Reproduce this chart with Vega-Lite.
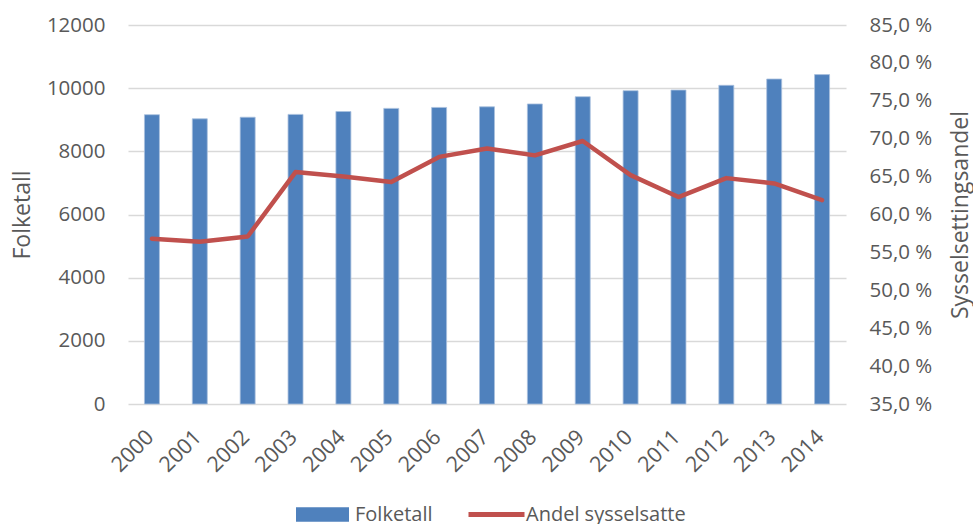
{
  "$schema": "https://vega.github.io/schema/vega-lite/v6.json",
  "width": 718,
  "height": 379,
  "autosize": {"type": "none"},
  "padding": {"left": 128, "top": 25, "right": 127, "bottom": 120},
  "background": "white",
  "config": {
    "font": "Open Sans",
    "view": {"stroke": null},
    "axis": {"labelFont": "Open Sans", "titleFont": "Open Sans", "labelColor": "#595959", "titleColor": "#595959", "labelFontSize": 20.5, "titleFontSize": 23, "titleFontWeight": "normal"},
    "legend": {"labelFont": "Open Sans"}
  },
  "data": {
    "values": [
      {"year": "2000", "folketall": 9160, "andel": 56.8},
      {"year": "2001", "folketall": 9030, "andel": 56.4},
      {"year": "2002", "folketall": 9080, "andel": 57.1},
      {"year": "2003", "folketall": 9170, "andel": 65.6},
      {"year": "2004", "folketall": 9260, "andel": 65.0},
      {"year": "2005", "folketall": 9360, "andel": 64.3},
      {"year": "2006", "folketall": 9390, "andel": 67.6},
      {"year": "2007", "folketall": 9410, "andel": 68.7},
      {"year": "2008", "folketall": 9500, "andel": 67.8},
      {"year": "2009", "folketall": 9730, "andel": 69.7},
      {"year": "2010", "folketall": 9920, "andel": 65.2},
      {"year": "2011", "folketall": 9940, "andel": 62.3},
      {"year": "2012", "folketall": 10090, "andel": 64.8},
      {"year": "2013", "folketall": 10290, "andel": 64.1},
      {"year": "2014", "folketall": 10430, "andel": 61.9}
    ]
  },
  "encoding": {
    "x": {
      "field": "year",
      "type": "ordinal",
      "scale": {"paddingInner": 0.687, "paddingOuter": 0.3435},
      "axis": {"title": null, "labelAngle": -45, "labelFontSize": 21.5, "domain": false, "ticks": false, "tickSize": 0, "labelPadding": 22, "labelOffset": -9, "grid": false}
    }
  },
  "layer": [
    {
      "mark": {"type": "bar", "color": "#4f81bd", "stroke": "#a9c0de", "strokeWidth": 0.8},
      "encoding": {
        "y": {
          "field": "folketall",
          "type": "quantitative",
          "scale": {"domain": [0, 12000], "nice": false},
          "axis": {
            "title": "Folketall",
            "values": [0, 2000, 4000, 6000, 8000, 10000, 12000],
            "format": "d",
            "domain": false,
            "ticks": false,
            "tickSize": 0,
            "labelPadding": 23,
            "grid": true,
            "gridColor": "#d9d9d9",
            "gridWidth": 1.4,
            "titleX": -106,
            "titleY": 189.5,
            "titleAngle": -90,
            "titleAlign": "center",
            "titleBaseline": "middle"
          }
        },
        "color": {
          "datum": "Folketall",
          "type": "nominal",
          "scale": {"domain": ["Folketall"], "range": ["#4f81bd"]},
          "legend": {
            "title": null,
            "orient": "none",
            "direction": "horizontal",
            "legendX": 168,
            "legendY": 463,
            "padding": 0,
            "symbolType": "M-1,-0.27H1V0.27H-1Z",
            "symbolSize": 2809,
            "symbolStrokeWidth": 0,
            "labelFontSize": 20,
            "labelColor": "#595959",
            "labelOffset": 6
          }
        }
      }
    },
    {
      "mark": {"type": "line", "strokeWidth": 4.5, "strokeJoin": "round", "strokeCap": "round"},
      "encoding": {
        "y": {
          "field": "andel",
          "type": "quantitative",
          "scale": {"domain": [35, 85], "nice": false, "zero": false},
          "axis": {
            "orient": "right",
            "title": "Sysselsettingsandel",
            "values": [35, 40, 45, 50, 55, 60, 65, 70, 75, 80, 85],
            "labelExpr": "replace(format(datum.value, '.1f'), '.', ',') + ' %'",
            "domain": false,
            "ticks": false,
            "tickSize": 0,
            "labelPadding": 23,
            "grid": false,
            "titleX": 114,
            "titleY": 189.5,
            "titleAngle": -90,
            "titleAlign": "center",
            "titleBaseline": "middle"
          }
        },
        "stroke": {
          "datum": "Andel sysselsatte",
          "type": "nominal",
          "scale": {"domain": ["Andel sysselsatte"], "range": ["#c0504d"]},
          "legend": {
            "title": null,
            "orient": "none",
            "direction": "horizontal",
            "legendX": 338,
            "legendY": 459,
            "padding": 0,
            "symbolType": "stroke",
            "symbolSize": 3136,
            "symbolStrokeWidth": 5,
            "labelFontSize": 20,
            "labelColor": "#595959",
            "labelOffset": -1
          }
        }
      }
    }
  ],
  "resolve": {"scale": {"y": "independent"}}
}
